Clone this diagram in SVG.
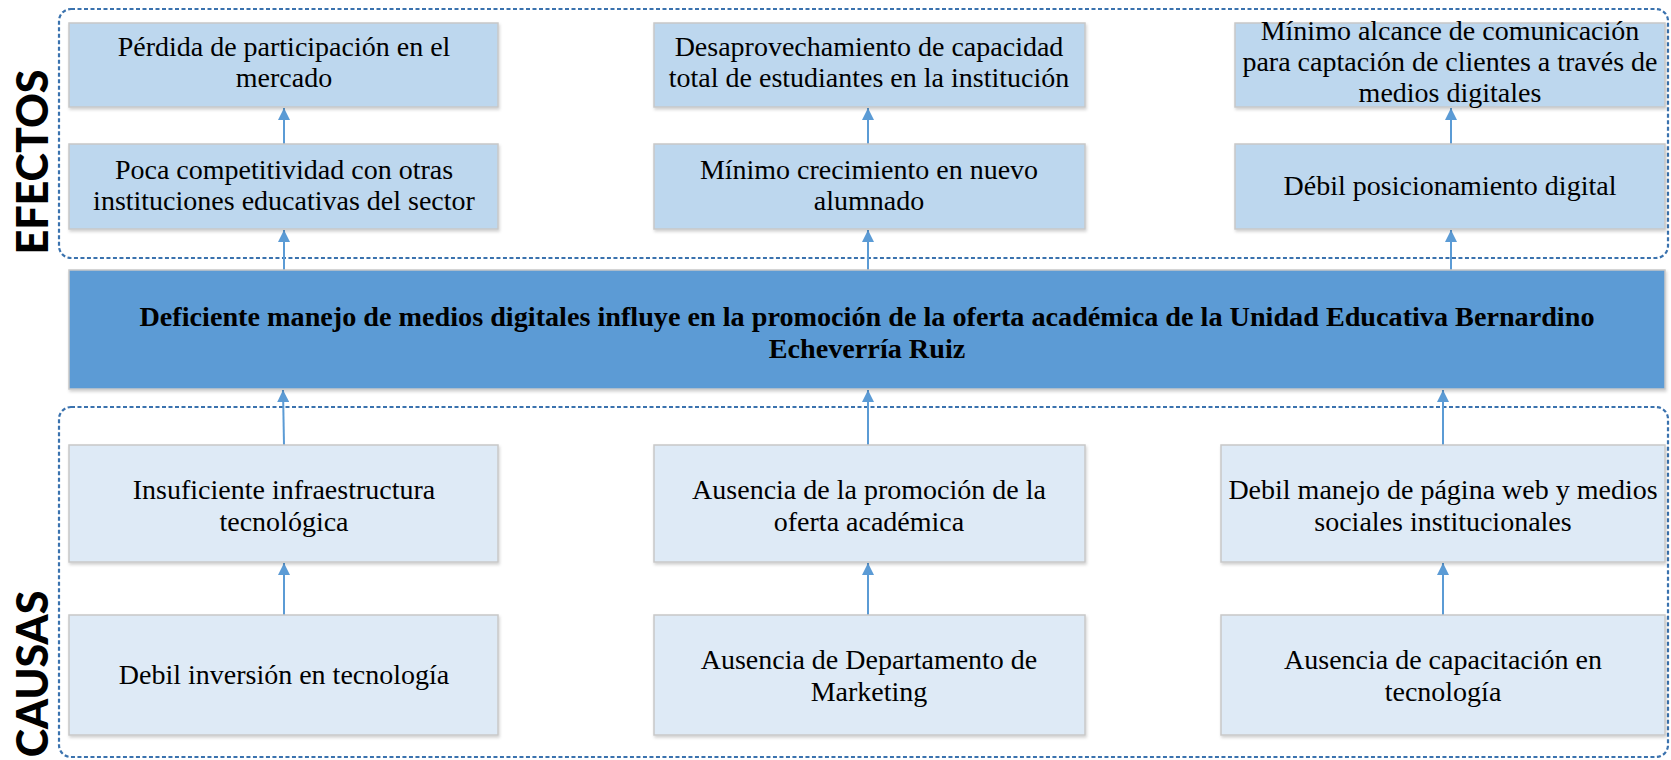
<svg xmlns="http://www.w3.org/2000/svg" width="1671" height="760" viewBox="0 0 1671 760">
<style>
.eff{fill:#BDD7EE;stroke:#C8C8C8;stroke-width:1.5;filter:url(#sh)}
.cau{fill:#DEEAF6;stroke:#C8C8C8;stroke-width:1.5;filter:url(#sh)}
.main{fill:#5B9BD5;stroke:#C8C8C8;stroke-width:1.5;filter:url(#sh)}
.grp{fill:none;stroke:#3A72AE;stroke-width:2.2;stroke-dasharray:4 2.5}
.t{font-family:"Liberation Serif","Times New Roman",serif;font-size:28px;fill:#000;text-anchor:middle}
.tb{font-family:"Liberation Serif","Times New Roman",serif;font-size:28.2px;font-weight:bold;fill:#000;text-anchor:middle}
.lab{font-family:Lato,"Open Sans",sans-serif;font-size:43px;font-weight:900;fill:#000;text-anchor:middle}
.ar{stroke:#5B9BD5;stroke-width:2;fill:none;marker-end:url(#ah)}
</style>
<defs>
<filter id="sh" x="-5%" y="-10%" width="110%" height="130%">
<feDropShadow dx="1" dy="2" stdDeviation="1.5" flood-color="#000" flood-opacity="0.18"/>
</filter>
<marker id="ah" markerWidth="13" markerHeight="12" refX="10" refY="5" orient="auto" markerUnits="userSpaceOnUse" viewBox="0 0 10 10">
<path d="M0,0 L10,5 L0,10 Z" fill="#5B9BD5"/>
</marker>
</defs>
<rect width="1671" height="760" fill="#fff"/>

<g id="grupo-efectos">
<rect class="grp" x="59" y="9" width="1609" height="249" rx="12"/>
<text class="lab" transform="translate(48,162) rotate(-90)">EFECTOS</text>
</g>
<g id="grupo-causas">
<rect class="grp" x="59" y="407" width="1609" height="350" rx="12"/>
<text class="lab" transform="translate(48,674) rotate(-90)">CAUSAS</text>
</g>

<g id="connectors">
<line class="ar" x1="284" y1="144" x2="284" y2="108"/>
<line class="ar" x1="284" y1="270" x2="284" y2="230"/>
<line class="ar" x1="868" y1="144" x2="868" y2="108"/>
<line class="ar" x1="868" y1="270" x2="868" y2="230"/>
<line class="ar" x1="1451" y1="144" x2="1451" y2="108"/>
<line class="ar" x1="1451" y1="270" x2="1451" y2="230"/>
<line class="ar" x1="284" y1="445" x2="283" y2="390"/>
<line class="ar" x1="868" y1="445" x2="868" y2="390"/>
<line class="ar" x1="1443" y1="445" x2="1443" y2="390"/>
<line class="ar" x1="284" y1="615" x2="284" y2="563"/>
<line class="ar" x1="868" y1="615" x2="868" y2="563"/>
<line class="ar" x1="1443" y1="615" x2="1443" y2="563"/>
</g>

<g id="e1">
<rect class="eff" x="69" y="23" width="429" height="84"/>
<text class="t" x="284" y="56">Pérdida de participación en el</text>
<text class="t" x="284" y="87">mercado</text>
</g>
<g id="e2">
<rect class="eff" x="654" y="23" width="431" height="84"/>
<text class="t" x="869" y="56">Desaprovechamiento de capacidad</text>
<text class="t" x="869" y="87">total de estudiantes en la institución</text>
</g>
<g id="e3">
<rect class="eff" x="1235" y="23" width="430" height="84"/>
<text class="t" x="1450" y="40">Mínimo alcance de comunicación</text>
<text class="t" x="1450" y="71">para captación de clientes a través de</text>
<text class="t" x="1450" y="102">medios digitales</text>
</g>
<g id="e4">
<rect class="eff" x="69" y="144" width="429" height="85"/>
<text class="t" x="284" y="179">Poca competitividad con otras</text>
<text class="t" x="284" y="210">instituciones educativas del sector</text>
</g>
<g id="e5">
<rect class="eff" x="654" y="144" width="431" height="85"/>
<text class="t" x="869" y="179">Mínimo crecimiento en nuevo</text>
<text class="t" x="869" y="210">alumnado</text>
</g>
<g id="e6">
<rect class="eff" x="1235" y="144" width="430" height="85"/>
<text class="t" x="1450" y="195">Débil posicionamiento digital</text>
</g>

<g id="problema">
<rect class="main" x="69" y="270" width="1596" height="119"/>
<text class="tb" x="867" y="326">Deficiente manejo de medios digitales influye en la promoción de la oferta académica de la Unidad Educativa Bernardino</text>
<text class="tb" x="867" y="358">Echeverría Ruiz</text>
</g>

<g id="c1">
<rect class="cau" x="69" y="445" width="429" height="117"/>
<text class="t" x="284" y="499">Insuficiente infraestructura</text>
<text class="t" x="284" y="531">tecnológica</text>
</g>
<g id="c2">
<rect class="cau" x="654" y="445" width="431" height="117"/>
<text class="t" x="869" y="499">Ausencia de la promoción de la</text>
<text class="t" x="869" y="531">oferta académica</text>
</g>
<g id="c3">
<rect class="cau" x="1221" y="445" width="444" height="117"/>
<text class="t" x="1443" y="499">Debil manejo de página web y medios</text>
<text class="t" x="1443" y="531">sociales institucionales</text>
</g>
<g id="c4">
<rect class="cau" x="69" y="615" width="429" height="120"/>
<text class="t" x="284" y="684">Debil inversión en tecnología</text>
</g>
<g id="c5">
<rect class="cau" x="654" y="615" width="431" height="120"/>
<text class="t" x="869" y="669">Ausencia de Departamento de</text>
<text class="t" x="869" y="701">Marketing</text>
</g>
<g id="c6">
<rect class="cau" x="1221" y="615" width="444" height="120"/>
<text class="t" x="1443" y="669">Ausencia de capacitación en</text>
<text class="t" x="1443" y="701">tecnología</text>
</g>
</svg>
